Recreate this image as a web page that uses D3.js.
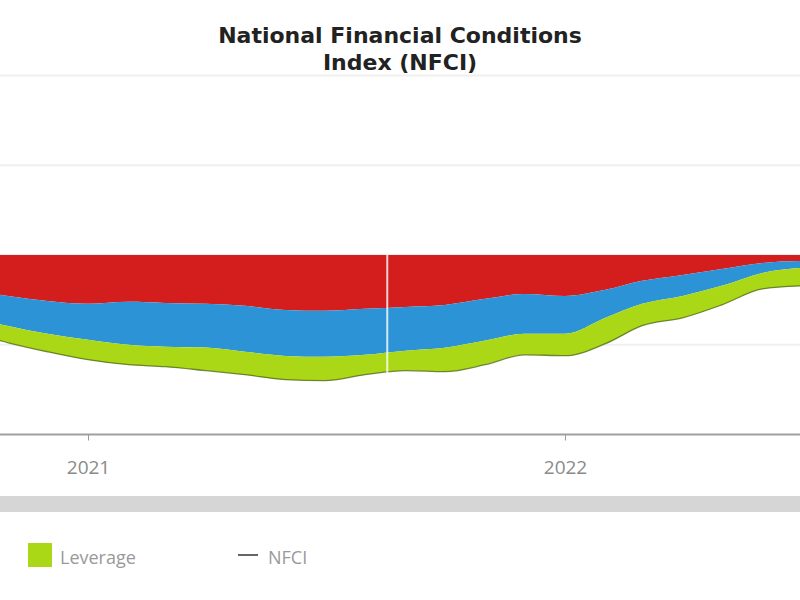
<!DOCTYPE html>
<html>
<head>
<meta charset="utf-8">
<script src="https://cdn.jsdelivr.net/npm/d3@7"></script>
<style>
  body { margin: 0; background: #fff; }
  svg { display: block; }
</style>
</head>
<body>
<svg id="chart" width="800" height="600"></svg>
<script>
// Monthly readings of the weekly NFCI contributions
const dates = [
	"2020-10-01", "2020-11-01", "2020-12-01", "2021-01-01", "2021-02-01", "2021-03-01",
	"2021-04-01", "2021-05-01", "2021-06-01", "2021-07-01", "2021-08-01", "2021-09-01",
	"2021-10-01", "2021-11-01", "2021-12-01", "2022-01-01", "2022-02-01", "2022-03-01",
	"2022-04-01", "2022-05-01", "2022-06-01", "2022-07-01"
];
const risk = [
	-0.189, -0.228, -0.256, -0.272, -0.261, -0.267, -0.272, -0.283, -0.306, -0.311, -0.300,
	-0.289, -0.278, -0.244, -0.217, -0.228, -0.194, -0.144, -0.111, -0.078, -0.044, -0.033
];
const credit = [
	-0.156, -0.167, -0.183, -0.200, -0.239, -0.244, -0.244, -0.256, -0.256, -0.256, -0.256,
	-0.244, -0.239, -0.233, -0.222, -0.211, -0.156, -0.128, -0.117, -0.094, -0.056, -0.039
];
const leverage = [
	-0.083, -0.094, -0.100, -0.111, -0.111, -0.111, -0.128, -0.128, -0.133, -0.133, -0.111,
	-0.111, -0.133, -0.133, -0.117, -0.122, -0.144, -0.122, -0.122, -0.106, -0.089, -0.100
];
const nfci = [
	-0.428, -0.489, -0.539, -0.583, -0.611, -0.622, -0.644, -0.667, -0.694, -0.700, -0.667,
	-0.644, -0.650, -0.611, -0.556, -0.561, -0.494, -0.394, -0.350, -0.278, -0.189, -0.172
];
const yearTicks = ["2021-01-01", "2022-01-01"];
const gridValues = [1, 0.5, 0, -0.5];
const markerDate = "2021-08-18";
const markerValue = -0.67;

const seriesNames = ["Risk", "Credit", "Leverage"];
const colors = { Risk: "#d41d1d", Credit: "#2b93d6", Leverage: "#aad816" };

const parse = d3.timeParse("%Y-%m-%d");
const rows = dates.map((d, i) => ({
	date: parse(d),
	Risk: risk[i],
	Credit: credit[i],
	Leverage: leverage[i],
	NFCI: nfci[i]
}));

const svg = d3.select("#chart");
const width = 800;

const x = d3.scaleTime()
	.domain([parse("2021-01-01"), parse("2022-01-01")])
	.range([88, 565]);
const y = d3.scaleLinear().domain([1, -1]).range([75.5, 434.5]);

svg.append("defs").append("clipPath").attr("id", "plot")
	.append("rect").attr("x", 0).attr("y", 0).attr("width", width).attr("height", 434);

// Title
const title = svg.append("text")
	.attr("text-anchor", "middle")
	.attr("font-family", "DejaVu Sans, Verdana, sans-serif")
	.attr("font-weight", "bold")
	.attr("font-size", 22)
	.attr("fill", "#222");
title.append("tspan").attr("x", 400).attr("y", 43).text("National Financial Conditions");
title.append("tspan").attr("x", 400).attr("y", 70).text("Index (NFCI)");

// Gridlines
svg.append("g").selectAll("line")
	.data(gridValues)
	.join("line")
	.attr("x1", 0).attr("x2", width)
	.attr("y1", d => y(d)).attr("y2", d => y(d))
	.attr("stroke", "#efefef")
	.attr("stroke-width", 2);

// Stacked negative contributions
const stack = d3.stack()
	.keys(seriesNames)
	.offset(d3.stackOffsetDiverging);
const layers = stack(rows);

const area = d3.area()
	.curve(d3.curveMonotoneX)
	.x(d => x(d.data.date))
	.y0(d => y(d[0]))
	.y1(d => y(d[1]));

const plot = svg.append("g").attr("clip-path", "url(#plot)");

plot.selectAll("path.layer")
	.data(layers)
	.join("path")
	.attr("class", "layer")
	.attr("fill", d => colors[d.key])
	.attr("d", area);

// NFCI line
const line = d3.line()
	.curve(d3.curveMonotoneX)
	.x(d => x(d.date))
	.y(d => y(d.NFCI));

plot.append("path")
	.datum(rows)
	.attr("fill", "none")
	.attr("stroke", "#4a6410")
	.attr("stroke-width", 1.3)
	.attr("stroke-opacity", 0.75)
	.attr("d", line);

// hover marker
plot.append("line")
	.attr("x1", x(parse(markerDate))).attr("x2", x(parse(markerDate)))
	.attr("y1", y(0)).attr("y2", y(markerValue))
	.attr("stroke", "#ffffff")
	.attr("stroke-opacity", 0.8)
	.attr("stroke-width", 2);

// X axis
const xAxis = svg.append("g")
	.attr("transform", `translate(0, ${y(-1)})`)
	.call(d3.axisBottom(x)
		.tickValues(yearTicks.map(parse))
		.tickSize(6)
		.tickFormat(d3.timeFormat("%Y")));

xAxis.select(".domain").remove();
xAxis.insert("line", ":first-child")
	.attr("x1", 0).attr("x2", width)
	.attr("stroke", "#a0a0a0")
	.attr("stroke-width", 2);
xAxis.selectAll(".tick line").attr("stroke", "#999");
xAxis.selectAll(".tick text")
	.attr("y", 26)
	.attr("font-family", "Open Sans, sans-serif")
	.attr("font-size", 19)
	.attr("fill", "#8a8a8a");

// Navigator band
svg.append("rect")
	.attr("x", 0).attr("y", 496)
	.attr("width", width).attr("height", 16)
	.attr("fill", "#d6d6d6");

// Legend
const legend = svg.append("g")
	.attr("font-family", "Open Sans, sans-serif")
	.attr("font-size", 18)
	.attr("fill", "#999");

legend.append("rect")
	.attr("x", 28).attr("y", 543)
	.attr("width", 24).attr("height", 24)
	.attr("fill", colors.Leverage);
legend.append("text").attr("x", 60).attr("y", 564).text("Leverage");

legend.append("line")
	.attr("x1", 238).attr("x2", 258)
	.attr("y1", 555).attr("y2", 555)
	.attr("stroke", "#666")
	.attr("stroke-width", 2);
legend.append("text").attr("x", 268).attr("y", 564).text("NFCI");
</script>
</body>
</html>
